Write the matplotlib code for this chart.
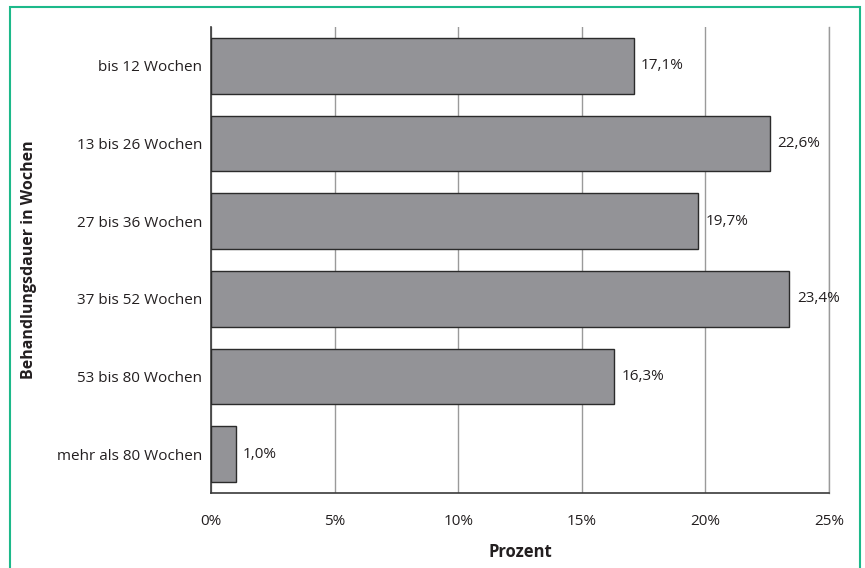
import matplotlib.pyplot as plt
from matplotlib.patches import Rectangle

# Behandlungsdauer und Anteil der Patienten (in Prozent)
kategorien = ["bis 12 Wochen", "13 bis 26 Wochen", "27 bis 36 Wochen",
              "37 bis 52 Wochen", "53 bis 80 Wochen", "mehr als 80 Wochen"]
anteile = [17.1, 22.6, 19.7, 23.4, 16.3, 1.0]
xticks = [0, 5, 10, 15, 20, 25]
xtick_labels = ["0%", "5%", "10%", "15%", "20%", "25%"]

plt.rcParams['font.family'] = ['Open Sans', 'DejaVu Sans']

W, H = 865, 568
fig = plt.figure(figsize=(W / 100, H / 100), dpi=100)

# axes in pixel coordinates: left 211, right 829, top 27, bottom 493
ax = fig.add_axes([211 / W, 1 - 493 / H, (829 - 211) / W, (493 - 27) / H])

pos = list(range(len(kategorien)))
ax.barh(pos, anteile, height=0.72, color='#939397', edgecolor='#2b2b2b',
        linewidth=1.0, zorder=3)

for y, v in zip(pos, anteile):
    ax.text(v + 0.3, y, f"{v:.1f}%".replace('.', ','), va='center', ha='left',
            fontsize=11, color='#231f20')

ax.set_ylim(len(kategorien) - 0.5, -0.5)
ax.set_xlim(0, 25)
ax.set_yticks(pos)
ax.set_yticklabels(kategorien, fontsize=11, color='#231f20')
ax.set_xticks(xticks)
ax.set_xticklabels(xtick_labels, fontsize=11, color='#231f20')
ax.tick_params(axis='both', length=0)
ax.tick_params(axis='x', pad=15)
ax.tick_params(axis='y', pad=6.5)

ax.grid(axis='x', color='#9a9a9a', linewidth=1.0, zorder=0)
ax.spines['top'].set_visible(False)
ax.spines['right'].set_color('#9a9a9a')
ax.spines['right'].set_linewidth(1.0)
for s in ['left', 'bottom']:
    ax.spines[s].set_color('#3a3a3a')
    ax.spines[s].set_linewidth(1.2)

ax.set_xlabel("Prozent", fontsize=12, fontweight='bold', labelpad=10, color='#231f20')
ax.set_ylabel("Behandlungsdauer in Wochen", fontsize=11.5, fontweight='bold',
              labelpad=14, color='#231f20')

# green frame around the figure
fig.patches.append(Rectangle((9.5 / W, -0.05), (860 - 9.5) / W, 1.05 - 6.5 / H,
                             transform=fig.transFigure, fill=False,
                             edgecolor='#1db98a', linewidth=1.5))

fig.savefig("out.png", dpi=100)
